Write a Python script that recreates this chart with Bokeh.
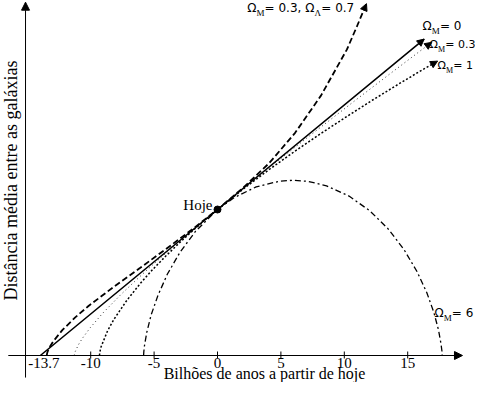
from bokeh.plotting import figure
from bokeh.models import Range1d, Arrow, NormalHead
from bokeh.core.properties import value
from bokeh.embed import file_html
from bokeh.resources import INLINE

# ---- values: time from today (Gyr), mean distance relative to today ----
t_om0 = [-13.97, 0.0, 16.3]
a_om0 = [0.0, 1.0, 2.167]

t_lcdm = [-13.47, -13.42, -13.37, -13.26, -12.97, -12.24, -11.22, -10.20, -8.16, -6.12,
          -4.08, -2.04, 0.0, 2.04, 4.08, 6.12, 8.16, 10.20, 11.0, 11.75]
a_lcdm = [0.0, 0.021, 0.033, 0.054, 0.095, 0.174, 0.261, 0.337, 0.472, 0.599,
          0.728, 0.861, 1.0, 1.150, 1.318, 1.525, 1.780, 2.095, 2.255, 2.41]

t_om03 = [-11.30, -11.28, -11.22, -10.98, -10.67, -10.04, -9.05, -7.58, -6.40, -5.48, -4.42,
          -3.22, -1.86, 0.0, 1.40, 3.35, 5.54, 7.99, 10.74, 13.81, 16.0, 16.9]
a_om03 = [0.0, 0.010, 0.027, 0.072, 0.116, 0.190, 0.290, 0.421, 0.518, 0.592, 0.674,
          0.765, 0.865, 1.0, 1.100, 1.236, 1.387, 1.554, 1.739, 1.943, 2.087, 2.145]

t_om1 = [-9.31, -9.28, -9.18, -8.67, -8.16, -7.14, -6.12, -5.10, -4.08, -3.06, -2.04, -1.02,
         0.0, 2.04, 4.08, 6.12, 8.16, 10.20, 12.24, 14.28, 16.32, 17.35]
a_om1 = [0.0, 0.024, 0.060, 0.169, 0.249, 0.379, 0.490, 0.590, 0.681, 0.767, 0.848, 0.926,
         1.0, 1.141, 1.274, 1.400, 1.521, 1.637, 1.750, 1.859, 1.965, 2.016]

t_om6 = [-5.83, -5.81, -5.75, -5.57, -5.24, -4.70, -3.95, -2.96, -1.74, 0.0, 1.30, 3.05, 4.89,
         5.95, 7.13, 8.60, 10.37, 12.00, 13.45, 14.70, 15.72, 16.51, 17.07, 17.43, 17.62, 17.71, 17.72]
a_om6 = [0.0, 0.027, 0.073, 0.161, 0.276, 0.411, 0.558, 0.707, 0.850, 1.0, 1.081, 1.155, 1.194,
         1.200, 1.193, 1.162, 1.092, 0.992, 0.868, 0.727, 0.577, 0.430, 0.293, 0.175, 0.083, 0.024, 0.0]

hoje_t = [0.0]
hoje_a = [1.0]

tick_values = [-10, -5, 0, 5, 10, 15]
tick_label_pos = [-13.7, -10, -5, 0, 5, 10, 15]
tick_labels = ["-13.7", "-10", "-5", "0", "5", "10", "15"]

x_title = "Bilhões de anos a partir de hoje"
y_title = "Distância média entre as galáxias"

SERIF = "Liberation Serif"
SANS = "DejaVu Sans"


def comp(size):
    # the svg text sits a little below its anchor; lift it back onto the baseline
    return -0.35 * size


p = figure(width=475, height=382,
           x_range=Range1d(-17.114, 20.347), y_range=Range1d(-0.1849, 2.4315),
           x_axis_type=None, y_axis_type=None,
           toolbar_location=None, output_backend="svg",
           min_border=0, outline_line_color=None,
           background_fill_color="white", border_fill_color="white")

# axes with arrows
p.add_layout(Arrow(x_start=-16.5, y_start=0, x_end=19.32, y_end=0,
                   line_color="black", line_width=1,
                   end=NormalHead(size=8, fill_color="black", line_color="black", line_width=1)))
p.add_layout(Arrow(x_start=-15.14, y_start=-0.151, x_end=-15.14, y_end=2.42,
                   line_color="black", line_width=1,
                   end=NormalHead(size=8, fill_color="black", line_color="black", line_width=1)))

# ticks
p.segment(x0=tick_values, y0=[0.0274] * len(tick_values), x1=tick_values,
          y1=[-0.0205] * len(tick_values), line_color="black", line_width=1)

# tick labels
p.text(x=tick_label_pos, y=[-0.0856] * len(tick_label_pos), text=tick_labels,
       y_offset=comp(15),
       text_font=value(SERIF), text_font_size="15px", text_align="center",
       text_baseline="alphabetic", text_color="black")

# axis titles
p.text(x=[3.707], y=[-0.161], text=[x_title], y_offset=comp(16), text_font=value(SERIF),
       text_font_size="16px", text_align="center", text_baseline="alphabetic",
       text_color="black")
p.text(x=[-15.77], y=[1.1986], text=[y_title], angle=1.5707963, x_offset=comp(18),
       text_font=value(SERIF),
       text_font_size="18px", text_align="center", text_baseline="alphabetic",
       text_color="black")

# curves
p.line(t_om6, a_om6, line_color="black", line_width=1.3, line_dash="6 3 2 3")
p.line(t_om03, a_om03, line_color="#333333", line_width=1, line_dash="1 3")
p.line(t_om1, a_om1, line_color="black", line_width=1.5, line_dash="2 2")
p.line(t_om0, a_om0, line_color="black", line_width=1.6)
p.line(t_lcdm, a_lcdm, line_color="black", line_width=1.8, line_dash="6 3")

for ts, avals in [(t_lcdm, a_lcdm), (t_om0, a_om0), (t_om03, a_om03), (t_om1, a_om1)]:
    p.add_layout(Arrow(x_start=ts[-2], y_start=avals[-2], x_end=ts[-1], y_end=avals[-1],
                       line_color=None,
                       end=NormalHead(size=7, fill_color="black", line_color="black", line_width=1)))

# today point
p.scatter(hoje_t, hoje_a, size=7, color="black")
p.text(x=hoje_t, y=hoje_a, text=["Hoje"], x_offset=-5, y_offset=1 + comp(15),
       text_font=value(SERIF), text_font_size="15px", text_align="right",
       text_baseline="alphabetic", text_color="black")


def piece(t, a, txt, dx, dy, font, size):
    p.text(x=[t], y=[a], text=[txt], x_offset=dx, y_offset=dy + comp(size),
           text_font=value(font), text_font_size=f"{size}px", text_align="left",
           text_baseline="alphabetic", text_color="black")


def omega_label(t, a, rest, big=12, small=9):
    piece(t, a, "\u03a9", 0, 0, SANS, big)
    piece(t, a, "M", 0.77 * big, 0.33 * big, SERIF, small)
    piece(t, a, rest, 0.77 * big + 0.9 * small, 0, SANS, big)


omega_label(16.17, 2.226, "= 0")
omega_label(16.72, 2.103, "= 0.3", big=11, small=8)
omega_label(17.35, 1.959, "= 1", big=11, small=8)
omega_label(17.11, 0.260, "= 6")

# long label for Omega_M = 0.3, Omega_Lambda = 0.7  (12px main, 9px subscripts)
lx, ly = 2.35, 2.349
piece(lx, ly, "\u03a9", 0, 0, SANS, 12)
piece(lx, ly, "M", 9.2, 4, SERIF, 9)
piece(lx, ly, "= 0.3, \u03a9", 17.3, 0, SANS, 12)
piece(lx, ly, "\u039b", 67.1, 4, SERIF, 9)
piece(lx, ly, "= 0.7", 74, 0, SANS, 12)

open("out.html", "w").write(file_html(p, INLINE))
